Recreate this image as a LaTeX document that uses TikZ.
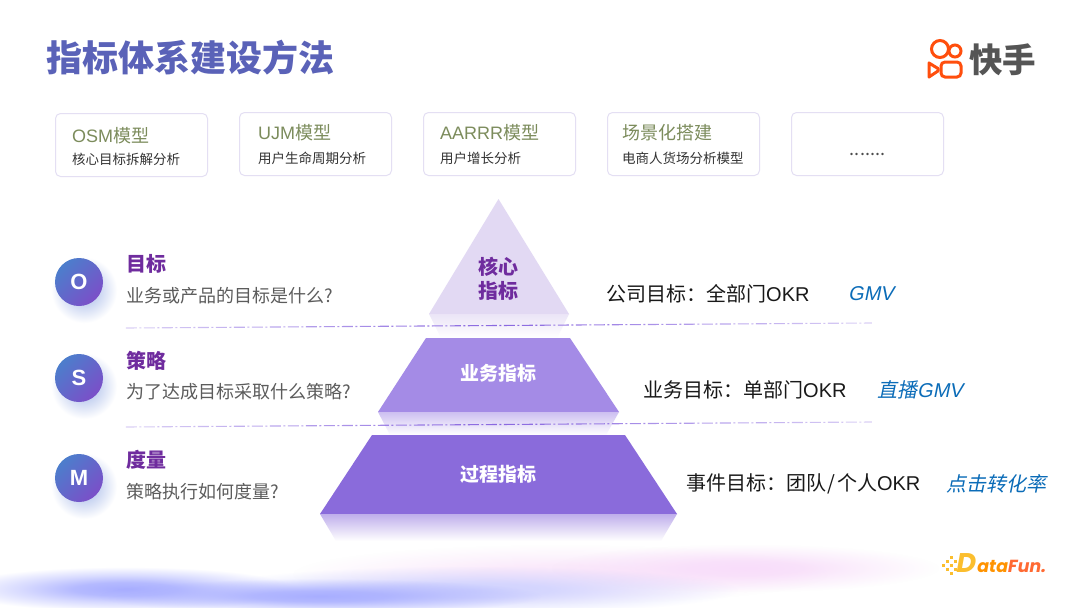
\documentclass[tikz,border=0pt]{standalone}
\usepackage{fontspec}
\setmainfont{Noto Sans CJK SC}
\newfontfamily\slantfont[FakeSlant=0.2]{Noto Sans CJK SC}
\newfontfamily\latinfont{Liberation Sans}
\newfontfamily\latinslant[FakeSlant=0.2]{Liberation Sans}
\newfontfamily\logofont[FakeSlant=0.18]{Poppins}
\usetikzlibrary{positioning,fadings,shadings}
\definecolor{titleblue}{HTML}{5A62B8}
\definecolor{modelgreen}{HTML}{7C8C5C}
\definecolor{boxedge}{HTML}{E4DFF3}
\definecolor{headpurple}{HTML}{6F2C9E}
\definecolor{questgray}{HTML}{5C5C5C}
\definecolor{linkblue}{HTML}{0B6CB8}
\definecolor{logoorange}{HTML}{FF4E0D}
\definecolor{logogray}{HTML}{555555}
\definecolor{dfyellow}{HTML}{FBBE2E}
\definecolor{dforange}{HTML}{FF6A33}
\definecolor{leftblue}{HTML}{4C7ECC}
\definecolor{rightpurple}{HTML}{7B4FC8}
\definecolor{cutpurple}{HTML}{8A68E0}
\definecolor{shadowblue}{HTML}{9DB2E6}
\definecolor{apexfill}{HTML}{E2D9F3}
\definecolor{midfill}{HTML}{A48BE6}
\definecolor{lowfill}{HTML}{8A6BDB}
\definecolor{pinkglow}{HTML}{F8DDFA}
\definecolor{blueglow}{HTML}{A8AEFF}
\pgfdeclareradialshading{blobshade}{\pgfpointorigin}{color(0bp)=(pgftransparent!0); color(7bp)=(pgftransparent!15); color(14bp)=(pgftransparent!55); color(23bp)=(pgftransparent!100); color(50bp)=(pgftransparent!100)}
\pgfdeclarefading{blobfade}{\pgfuseshading{blobshade}}
\tikzfading[name=rulefade, left color=transparent!70, right color=transparent!70, middle color=transparent!0]
\newcommand{\fsize}[1]{\fontsize{#1}{#1}\selectfont}
\begin{document}
\begin{tikzpicture}[x=1pt, y=-1pt,
  modelbox/.style={draw=boxedge, line width=1pt, rounded corners=5pt, minimum width=152pt, minimum height=63pt, fill=white},
  modelname/.style={anchor=west, inner sep=0pt, text=modelgreen, font=\fsize{18}},
  modelnote/.style={anchor=west, inner sep=0pt, text=black!80, font=\fsize{13.5}},
  letter/.style={circle, minimum size=48pt, inner sep=0pt, left color=leftblue, right color=rightpurple, shading angle=45, text=white, font=\fsize{22}\latinfont\bfseries},
  headline/.style={anchor=west, inner sep=0pt, text=headpurple, font=\fsize{20}\bfseries},
  question/.style={anchor=west, inner sep=0pt, text=questgray, font=\fsize{18}},
  goal/.style={anchor=west, inner sep=0pt, text=black!90, font=\fsize{20}},
  metric/.style={anchor=west, inner sep=0pt, text=linkblue, font=\fsize{20}\slantfont},
  tierwhite/.style={inner sep=0pt, text=white, font=\fsize{19}\bfseries},
  cutline/.style={draw=cutpurple, line width=1.1pt, dash pattern=on 11pt off 2.5pt on 2pt off 2.5pt, path fading=rulefade},
  node distance=31pt]
\useasboundingbox (0,0) rectangle (1080,608);
\clip (0,0) rectangle (1080,608);
\fill[white] (0,0) rectangle (1080,608);

% background glow
\fill[color=pinkglow!70, path fading=blobfade] (560,574) ellipse (290 and 32);
\fill[color=pinkglow, path fading=blobfade] (745,568) ellipse (210 and 26);
\fill[color=blueglow!55, path fading=blobfade] (470,590) ellipse (290 and 26);
\fill[color=blueglow, path fading=blobfade] (125,589) ellipse (185 and 24);
\fill[color=blueglow, path fading=blobfade] (320,596) ellipse (240 and 19);

% title and logo
\node[anchor=west, inner sep=0pt, text=titleblue, font=\fsize{36}\bfseries] (title) at (46,58) {指标体系建设方法};
\draw[logoorange, line width=3pt] (940,49) circle (8.5);
\draw[logoorange, line width=3pt] (955,51) circle (6);
\draw[logoorange, line width=3pt, rounded corners=4pt] (941,62) rectangle (961,77);
\draw[logoorange, line width=3pt, line join=round] (929,63) -- (938,68.5) -- (938,71) -- (929,77) -- cycle;
\node[anchor=west, inner sep=0pt, text=logogray, font=\fsize{33.5}\bfseries] (kuai) at (969,60) {快手};

% model boxes
\node[modelbox] (osm) at (131.5,145) {};
\node[modelbox, above right=-63pt and 31pt of osm] (ujm) {};
\node[modelbox, right=of ujm] (aarrr) {};
\node[modelbox, right=of aarrr] (scene) {};
\node[modelbox, right=of scene] (more) {};
\node[modelname] (osmname) at (72,136) {{\latinfont OSM}模型};
\node[modelnote] (osmnote) at (72,159) {核心目标拆解分析};
\node[modelname] (ujmname) at (258,133) {{\latinfont UJM}模型};
\node[modelnote] (ujmnote) at (258,158.5) {用户生命周期分析};
\node[modelname] (aarrrname) at (440,133) {{\latinfont AARRR}模型};
\node[modelnote] (aarrrnote) at (440,158.5) {用户增长分析};
\node[modelname] (scenename) at (622,133) {场景化搭建};
\node[modelnote] (scenenote) at (622,158.5) {电商人货场分析模型};
\node[inner sep=0pt, text=black!70, font=\fsize{18}, yshift=-10pt] (moredots) at (more) {.......};

% pyramid
\fill[fill=apexfill] (498.5,199) -- (569,314) -- (429,314) -- cycle;
\shade[top color=apexfill!70, bottom color=white] (429,314) -- (569,314) -- (557,338) -- (441,338) -- cycle;
\fill[fill=midfill] (426,338) -- (570,338) -- (619,412) -- (378,412) -- cycle;
\shade[top color=midfill!55, bottom color=white] (378,412) -- (619,412) -- (606,435) -- (390,435) -- cycle;
\fill[fill=lowfill] (372,435) -- (625,435) -- (677,514) -- (320,514) -- cycle;
\shade[top color=lowfill!55, bottom color=white] (320,514) -- (677,514) -- (661,541) -- (336,541) -- cycle;
\node[align=center, inner sep=0pt, text=headpurple, font=\fontsize{20}{24.5}\selectfont\bfseries] (core) at (498.5,279) {核心\\指标};
\node[tierwhite] (biz) at (498.5,373.5) {业务指标};
\node[tierwhite] (proc) at (498.5,474) {过程指标};

% cut lines
\coordinate (cutaleft) at (126,328);
\coordinate (cutaright) at (872,323);
\coordinate (cutbleft) at (126,427);
\coordinate (cutbright) at (872,422);
\draw[cutline] (cutaleft) -- (cutaright);
\draw[cutline] (cutbleft) -- (cutbright);

% left column
\foreach \cy in {282,378,478}
  \shade[inner color=shadowblue, outer color=white] (84,\cy+8) circle (33);
\node[letter] (o) at (79,282) {O};
\node[letter] (s) at (79,378) {S};
\node[letter] (m) at (79,478) {M};
\node[headline] (ohead) at (126,263.5) {目标};
\node[question] (oask) at (126,295.5) {业务或产品的目标是什么?};
\node[headline] (shead) at (126,360.5) {策略};
\node[question] (sask) at (126,391.5) {为了达成目标采取什么策略?};
\node[headline] (mhead) at (126,459.5) {度量};
\node[question] (mask) at (126,491.5) {策略执行如何度量?};

% right column
\node[goal] (ogoal) at (606,293.5) {公司目标：全部门{\latinfont OKR}};
\node[metric] (ometric) at (848,293.5) {{\latinslant GMV}};
\node[goal] (sgoal) at (643,389.5) {业务目标：单部门{\latinfont OKR}};
\node[metric] (smetric) at (877,389.5) {直播{\latinslant GMV}};
\node[goal] (mgoal) at (686,483.5) {事件目标：团队\kern1pt/\kern2pt个人{\latinfont OKR}};
\node[metric] (mmetric) at (946,483.5) {点击转化率};

% datafun mark
\foreach \dx/\dy in {942/564,946/560,946/568,950/556,950/564,950/572,954/560,954/568}
  \fill[dfyellow] (\dx,\dy) rectangle +(2.6,2.6);
\node[anchor=west, inner sep=0pt, font=\fsize{17.5}\logofont\bfseries] (datafun) at (955,563)
  {\textcolor{dfyellow}{\fsize{27}D}\kern1.5pt\textcolor{orange!85!yellow}{ata}\textcolor{dforange}{Fun.}};
\end{tikzpicture}
\end{document}
